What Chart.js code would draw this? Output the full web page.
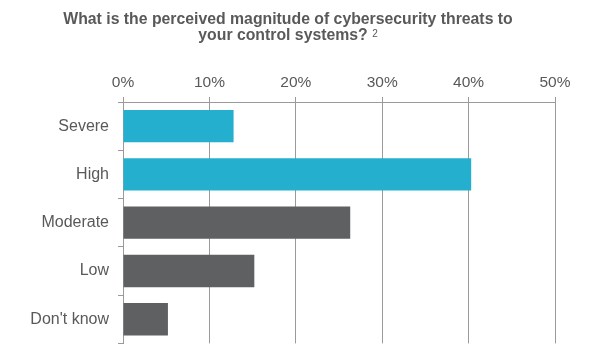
<!DOCTYPE html>
<html>
<head>
<meta charset="utf-8">
<script src="https://cdn.jsdelivr.net/npm/chart.js@4/dist/chart.umd.min.js"></script>
<style>
  html, body { margin: 0; padding: 0; background: #fff; }
  #wrap { position: relative; width: 596px; height: 362px; }
  #title {
    position: absolute; left: 0; top: 11px; width: 576px;
    text-align: center; color: #595959;
    font: bold 15.8px/15.5px "Liberation Sans", Arial, sans-serif;
  }
  #title .sup { font-weight: normal; font-size: 10px; position: relative; top: -3px; }
</style>
</head>
<body>
<div id="wrap">
  <canvas id="chart" width="596" height="362"></canvas>
  <div id="title">What is the perceived magnitude of cybersecurity threats to<br>your control systems? <span class="sup">2</span></div>
</div>
<script>
const categories = ["Severe", "High", "Moderate", "Low", "Don't know"];
const shares = [12.8, 40.3, 26.3, 15.2, 5.2];
const highlighted = ["Severe", "High"];
const xTicks = [0, 10, 20, 30, 40, 50];

const BLUE = "#24AFCE";
const DARK = "#5F6062";
const GRID = "#9A9A9A";
const TEXT = "#595959";

const ctx = document.getElementById("chart").getContext("2d");

new Chart(ctx, {
  type: "bar",
  data: {
    labels: categories,
    datasets: [
      {
        data: shares,
        backgroundColor: categories.map((c) => (highlighted.includes(c) ? BLUE : DARK)),
        borderWidth: 0,
        barPercentage: 0.67,
        categoryPercentage: 1,
      },
    ],
  },
  options: {
    indexAxis: "y",
    responsive: false,
    animation: false,
    layout: { padding: { left: 0, right: 41, top: 72, bottom: 15 } },
    plugins: {
      legend: { display: false },
      tooltip: { enabled: false },
    },
    scales: {
      x: {
        position: "top",
        min: xTicks[0],
        max: xTicks[xTicks.length - 1],
        afterBuildTicks: (s) => {
          s.ticks = xTicks.map((v) => ({ value: v }));
        },
        afterFit: (s) => {
          s.height = 30;
        },
        ticks: {
          callback: (v) => v + "%",
          color: TEXT,
          padding: 5,
          font: { family: "'Liberation Sans', Arial, sans-serif", size: 15.5 },
        },
        grid: { color: GRID, lineWidth: 1, tickLength: 5 },
        border: { color: GRID, width: 1 },
      },
      y: {
        afterFit: (s) => {
          s.width = 123;
        },
        ticks: {
          color: TEXT,
          padding: 9,
          font: { family: "'Liberation Sans', Arial, sans-serif", size: 16 },
        },
        grid: {
          offset: true,
          drawOnChartArea: false,
          color: GRID,
          tickLength: 5,
        },
        border: { color: GRID, width: 1 },
      },
    },
  },
});
</script>
</body>
</html>
